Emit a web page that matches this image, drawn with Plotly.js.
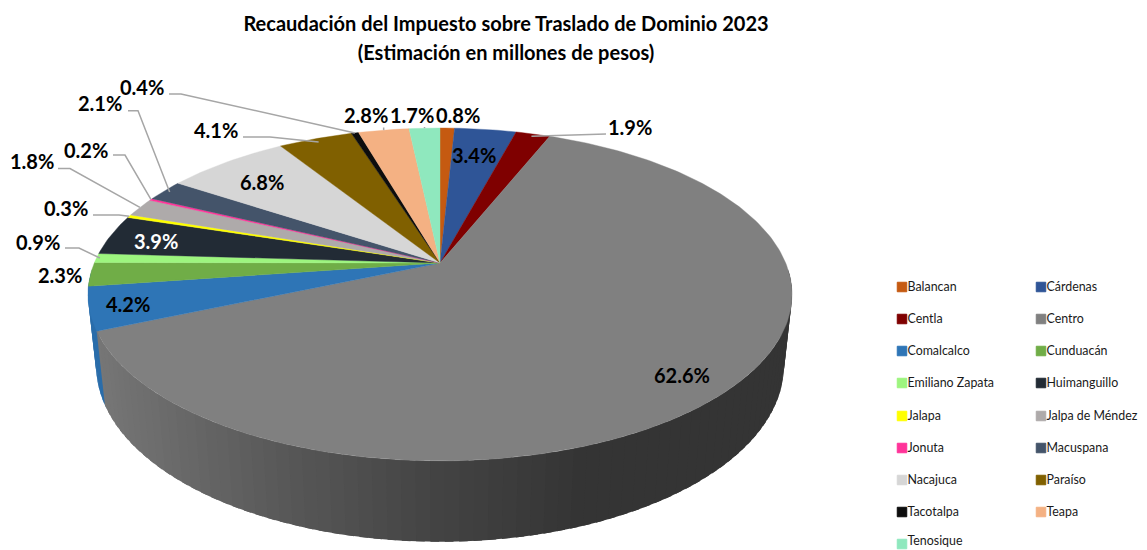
<!DOCTYPE html>
<html><head><meta charset="utf-8">
<script src="https://cdn.plot.ly/plotly-3.0.1.min.js"></script>
<style>html,body{margin:0;padding:0;background:#fff}#chart{width:1147px;height:550px}</style>
</head><body><div id="chart"></div>
<script>
// ---- data ----
const municipios = ['Balancan','Cárdenas','Centla','Centro','Comalcalco','Cunduacán','Emiliano Zapata','Huimanguillo','Jalapa','Jalpa de Méndez','Jonuta','Macuspana','Nacajuca','Paraíso','Tacotalpa','Teapa','Tenosique'];
const porcentajes = [0.8,3.4,1.9,62.6,4.2,2.3,0.9,3.9,0.3,1.8,0.2,2.1,6.8,4.1,0.4,2.8,1.7];
const colores = ['#C55A11','#2F5597','#7F0000','#808080','#2E75B6','#70AD47','#9DF57F','#222B35','#FFFF00','#AEAAAA','#FF3399','#44546A','#D6D6D6','#806000','#0D0D0D','#F4B183','#8FE8BE'];
const titulo1 = 'Recaudación del Impuesto sobre Traslado de Dominio 2023';
const titulo2 = '(Estimación en millones de pesos)';

// ---- layout: projection of the tilted 3D pie onto the pixel-scaled axes ----
const P = {cx:440, cy:263, A:345.7, h:160.5, k:0.189, D:72, m:0.023};
function proj(deg, r, s){
  const t = deg*Math.PI/180, u = r*Math.sin(t), v = r*Math.cos(t);
  const w = 1 + P.k*v + P.m*s;
  return [P.cx + P.A*u/w, P.cy + (-P.h*v + P.D*s)/w];
}
const labelPos = [[458,115,'#000'],[474,155,'#000'],[630,127,'#000'],[682,375,'#000'],[128,304,'#000'],[60,275,'#000'],[38,242,'#000'],[156,241,'#fff'],[66,208,'#000'],[32,161,'#000'],[86,150,'#000'],[100,103,'#000'],[262,182,'#000'],[216,130,'#000'],[142,87,'#000'],[366,115,'#000'],[412,115,'#000']];
const leaders = [
  {i:2, r:0.98, pts:[[606,134]]},
  {i:6, r:0.99, pts:[[65,248],[79,248]]},
  {i:8, r:1.0, pts:[[93,215],[119,215]]},
  {i:9, r:1.0, pts:[[58,168.6],[70,168.6]]},
  {i:10, r:1.0, pts:[[113,155],[125,155]]},
  {i:11, r:0.98, pts:[[128,110.7],[138,110.7]]},
  {i:13, r:0.97, pts:[[243,137],[270,137]]},
  {i:14, r:1.0, pts:[[169,94],[181,94]]},
  {i:15, r:1.0, pts:[[385,127.5]]},
  {i:16, r:1.0, pts:[[425,127]]}
];
const wallStops = [[95,120],[200,102],[300,86],[440,67],[580,52],[1147,51]];
function wallGrey(x){
  for(let j=1;j<wallStops.length;j++){
    if(x<=wallStops[j][0]){
      const a=wallStops[j-1], b=wallStops[j], f=Math.max(0,(x-a[0])/(b[0]-a[0]));
      const g=Math.round(a[1]+(b[1]-a[1])*f); return `rgb(${g},${g},${g})`;
    }
  }
  return 'rgb(51,51,51)';
}

// slice angular limits, clockwise from the top
const total = porcentajes.reduce((a,b)=>a+b,0);
let acum = 0;
const limites = porcentajes.map(p=>{const s=acum/total*360; acum+=p; return [s,acum/total*360];});

const traces = [];
function poly(xs,ys,color,lw){
  traces.push({type:'scatter',mode:'lines',x:xs,y:ys,fill:'toself',fillcolor:color,
    line:{color:color,width:lw},hoverinfo:'skip',showlegend:false});
}
// outer wall, drawn as narrow overlapping strips so its shade can vary; strips
// go from the far left towards the right so each one covers the seam of the last
const paredes=[];
limites.forEach(([a,b],n)=>{
  const from=Math.max(a,92), to=Math.min(b,268);
  if(to<=from) return;
  const steps=Math.max(1,Math.ceil((to-from)/2));
  for(let j=0;j<steps;j++){
    paredes.push({d0:from+(to-from)*j/steps,d1:from+(to-from)*(j+1)/steps,n});
  }
});
paredes.reverse().forEach(({d0,d1,n})=>{
  const ext=Math.max(92,d0-1.2);
  const p=[proj(ext,1,0),proj(d1,1,0),proj(d1,1,1),proj(ext,1,1)];
  const mx=(proj(d0,1,1)[0]+proj(d1,1,1)[0])/2;
  const xs=p.map(q=>q[0]), ys=p.map(q=>q[1]);
  xs.push(xs[0]); ys.push(ys[0]);
  poly(xs,ys,n===3?wallGrey(mx):'#2A6DAA',0);
});
// top face
limites.forEach(([a,b],n)=>{
  const xs=[P.cx], ys=[P.cy];
  const steps=Math.max(2,Math.ceil(b-a));
  for(let j=0;j<=steps;j++){const q=proj(a+(b-a)*j/steps,1,0); xs.push(q[0]); ys.push(q[1]);}
  xs.push(P.cx); ys.push(P.cy);
  poly(xs,ys,colores[n],0.4);
});
// leader lines
const lx=[], ly=[];
leaders.forEach(l=>{
  const mid=(limites[l.i][0]+limites[l.i][1])/2, tip=proj(mid,l.r,0);
  const pts=l.pts.concat([tip]);
  if(l.pts.length===1 && (l.i===15||l.i===16)){pts[0]=[tip[0],l.pts[0][1]];}
  pts.forEach(q=>{lx.push(q[0]);ly.push(q[1]);}); lx.push(null); ly.push(null);
});
traces.push({type:'scatter',mode:'lines',x:lx,y:ly,line:{color:'#A6A6A6',width:1.5},hoverinfo:'skip',showlegend:false});
// key: swatches and their names
const colX=[902,1041], rowY=[287,319,351,383,416,448,480,512,544], textRowY=[288,320,352,384,417,449,481,513,542];
traces.push({type:'scatter',mode:'markers',
  x:municipios.map((_,i)=>colX[i%2]), y:municipios.map((_,i)=>rowY[Math.floor(i/2)]),
  marker:{symbol:'square',size:9.5,color:colores,line:{color:colores,width:1}},
  hoverinfo:'skip',showlegend:false});
traces.push({type:'scatter',mode:'text',
  x:municipios.map((_,i)=>colX[i%2]+5.5), y:municipios.map((_,i)=>textRowY[Math.floor(i/2)]),
  text:municipios, textposition:'middle right',
  textfont:{family:'Lato, Carlito, sans-serif',size:12.4,color:'#1a1a1a'},
  hoverinfo:'skip',showlegend:false});

const annotations = porcentajes.map((p,i)=>({
  x:labelPos[i][0], y:labelPos[i][1], xref:'x', yref:'y', showarrow:false,
  xanchor:'center', yanchor:'middle', text:'<b>'+p.toFixed(1)+'%</b>',
  font:{family:'Lato, Carlito, sans-serif',size:20,color:labelPos[i][2]}
}));

const layout = {
  width:1147,height:550,margin:{l:0,r:0,t:0,b:0},
  paper_bgcolor:'#fff',plot_bgcolor:'#fff',showlegend:false,
  xaxis:{range:[0,1147],visible:false,fixedrange:true},
  yaxis:{range:[550,0],visible:false,fixedrange:true},
  title:{text:`<span style="font-size:20px"><b>${titulo1}</b></span><br><span style="font-size:20px"><b>${titulo2}</b></span>`,
    font:{family:'Lato, Carlito, sans-serif',size:22,color:'#000'},
    x:506/1147,xanchor:'center',y:1-31/550,yanchor:'middle'},
  annotations
};
Plotly.newPlot('chart',traces,layout,{displayModeBar:false,staticPlot:true});
</script></body></html>
